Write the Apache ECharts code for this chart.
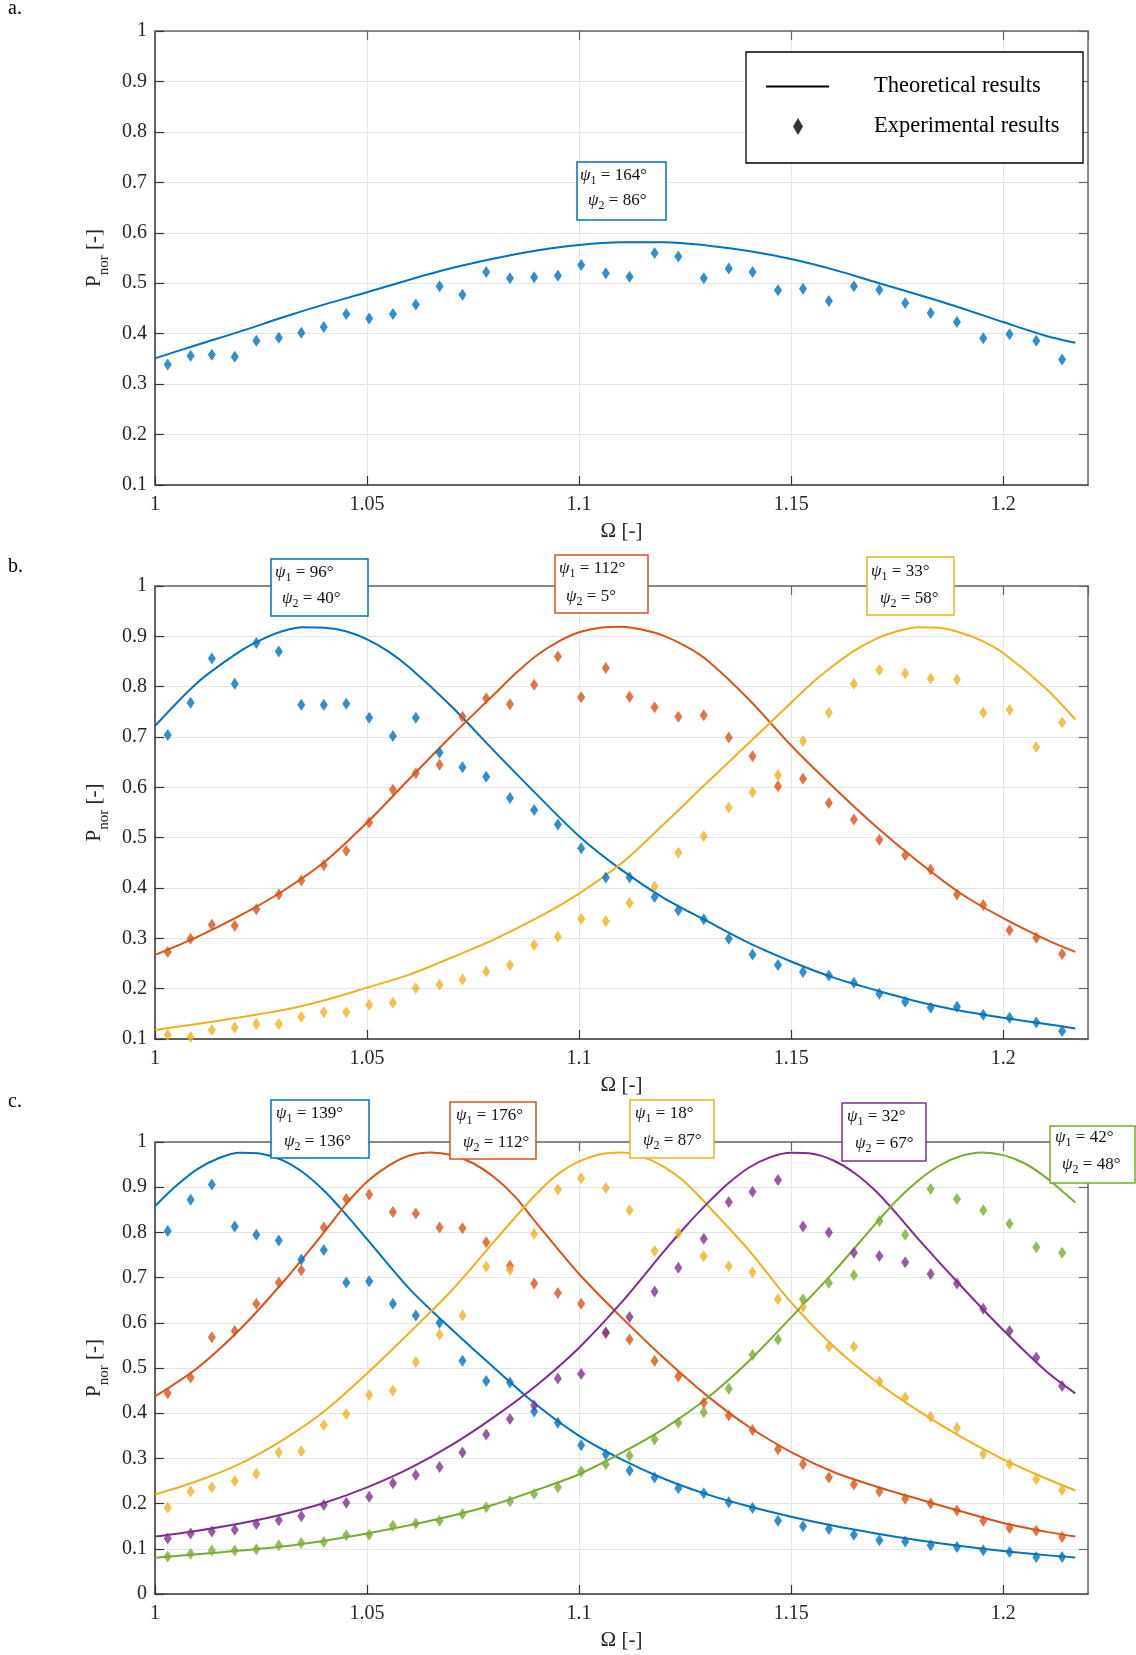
<!DOCTYPE html>
<html>
<head>
<meta charset="utf-8">
<script src="https://cdn.jsdelivr.net/npm/echarts/dist/echarts.min.js"></script>
<style>
html,body{margin:0;padding:0;background:#fff;overflow:hidden}
#chart{width:1136px;height:1655px}
</style>
</head>
<body>
<div id="chart"></div>
<script>
// ---------------- DATA ----------------
const expX = [1.0030,1.0084,1.0134,1.0188,1.0239,1.0292,1.0345,1.0398,1.0451,1.0505,1.0561,1.0615,1.0671,1.0725,1.0781,1.0837,1.0894,1.0950,1.1005,1.1063,1.1119,1.1178,1.1234,1.1294,1.1353,1.1409,1.1469,1.1528,1.1589,1.1648,1.1708,1.1769,1.1829,1.1891,1.1953,1.2015,1.2078,1.2139];

// panel a experimental
const expA = [0.339,0.356,0.358,0.354,0.386,0.392,0.402,0.413,0.439,0.430,0.439,0.458,0.494,0.477,0.522,0.510,0.512,0.515,0.536,0.520,0.513,0.560,0.553,0.510,0.529,0.522,0.486,0.489,0.465,0.494,0.487,0.461,0.441,0.423,0.391,0.399,0.386,0.349];
// panel b experimental
const expB1 = [0.704,0.768,0.856,0.806,0.887,0.870,0.764,0.764,0.766,0.738,0.702,0.738,0.669,0.640,0.621,0.579,0.555,0.526,0.479,0.421,0.421,0.382,0.356,0.338,0.299,0.268,0.247,0.233,0.226,0.212,0.190,0.174,0.162,0.164,0.148,0.142,0.133,0.116];
const expB2 = [0.273,0.299,0.327,0.325,0.358,0.387,0.415,0.445,0.474,0.530,0.595,0.628,0.645,0.740,0.777,0.765,0.804,0.860,0.779,0.837,0.780,0.759,0.740,0.743,0.699,0.662,0.602,0.617,0.569,0.536,0.496,0.465,0.437,0.387,0.366,0.316,0.301,0.269];
const expB3 = [0.108,0.104,0.118,0.123,0.130,0.130,0.144,0.153,0.153,0.168,0.172,0.201,0.208,0.218,0.234,0.247,0.287,0.303,0.339,0.334,0.370,0.403,0.470,0.503,0.560,0.590,0.624,0.692,0.748,0.806,0.833,0.826,0.816,0.814,0.748,0.754,0.680,0.729];
// panel c experimental
const expC1 = [0.803,0.872,0.906,0.813,0.795,0.782,0.740,0.761,0.689,0.692,0.642,0.616,0.600,0.516,0.471,0.468,0.404,0.379,0.329,0.309,0.273,0.258,0.234,0.223,0.203,0.190,0.162,0.150,0.144,0.131,0.119,0.116,0.108,0.104,0.097,0.093,0.082,0.082];
const expC2 = [0.444,0.479,0.568,0.582,0.642,0.689,0.716,0.811,0.874,0.884,0.845,0.842,0.811,0.809,0.778,0.726,0.687,0.666,0.642,0.577,0.563,0.516,0.481,0.423,0.395,0.363,0.320,0.287,0.258,0.242,0.227,0.211,0.200,0.185,0.162,0.146,0.140,0.126];
const expC3 = [0.191,0.227,0.236,0.250,0.266,0.313,0.316,0.374,0.398,0.440,0.450,0.513,0.574,0.616,0.724,0.717,0.797,0.895,0.919,0.898,0.849,0.759,0.798,0.747,0.725,0.712,0.652,0.635,0.547,0.547,0.470,0.435,0.392,0.367,0.310,0.287,0.254,0.230];
const expC4 = [0.123,0.134,0.138,0.142,0.155,0.163,0.172,0.197,0.202,0.215,0.245,0.263,0.281,0.313,0.353,0.387,0.417,0.477,0.487,0.579,0.613,0.669,0.722,0.786,0.867,0.890,0.916,0.813,0.800,0.755,0.748,0.734,0.708,0.687,0.631,0.582,0.523,0.460];
const expC5 = [0.083,0.089,0.096,0.096,0.099,0.108,0.113,0.115,0.130,0.131,0.151,0.156,0.162,0.177,0.192,0.205,0.221,0.236,0.271,0.287,0.306,0.342,0.379,0.402,0.454,0.529,0.563,0.652,0.688,0.705,0.825,0.795,0.896,0.874,0.849,0.819,0.767,0.755];

// theoretical curves, [Omega, P] pairs
const thA  = [[1.00,0.351],[1.01,0.378],[1.02,0.404],[1.03,0.432],[1.04,0.458],[1.05,0.482],[1.06,0.507],[1.07,0.530],[1.08,0.549],[1.09,0.565],[1.10,0.576],[1.11,0.581],[1.12,0.581],[1.13,0.575],[1.14,0.564],[1.15,0.548],[1.16,0.527],[1.17,0.502],[1.18,0.477],[1.19,0.451],[1.20,0.423],[1.21,0.396],[1.217,0.382]];
const thB1 = [[1.00,0.722],[1.01,0.808],[1.02,0.870],[1.025,0.893],[1.03,0.910],[1.035,0.918],[1.04,0.917],[1.045,0.910],[1.05,0.894],[1.055,0.870],[1.06,0.838],[1.07,0.760],[1.08,0.672],[1.09,0.586],[1.10,0.503],[1.11,0.436],[1.12,0.380],[1.13,0.335],[1.14,0.291],[1.15,0.254],[1.16,0.222],[1.17,0.197],[1.18,0.174],[1.19,0.156],[1.20,0.142],[1.21,0.130],[1.217,0.121]];
const thB2 = [[1.00,0.267],[1.01,0.303],[1.02,0.345],[1.03,0.393],[1.04,0.452],[1.05,0.530],[1.06,0.617],[1.07,0.703],[1.08,0.785],[1.085,0.826],[1.09,0.862],[1.095,0.889],[1.10,0.908],[1.105,0.917],[1.11,0.919],[1.115,0.913],[1.12,0.901],[1.125,0.881],[1.13,0.854],[1.14,0.775],[1.15,0.683],[1.16,0.600],[1.17,0.522],[1.18,0.452],[1.19,0.389],[1.20,0.340],[1.21,0.298],[1.217,0.273]];
const thB3 = [[1.00,0.118],[1.01,0.130],[1.02,0.143],[1.03,0.157],[1.04,0.177],[1.05,0.202],[1.06,0.228],[1.07,0.262],[1.08,0.298],[1.09,0.340],[1.10,0.389],[1.11,0.449],[1.12,0.527],[1.13,0.608],[1.14,0.688],[1.15,0.768],[1.155,0.808],[1.16,0.842],[1.165,0.872],[1.17,0.895],[1.175,0.910],[1.18,0.918],[1.185,0.917],[1.19,0.907],[1.195,0.891],[1.20,0.867],[1.21,0.797],[1.217,0.735]];
const thC1 = [[1.00,0.858],[1.005,0.903],[1.01,0.940],[1.015,0.964],[1.02,0.976],[1.025,0.974],[1.03,0.960],[1.035,0.932],[1.04,0.891],[1.045,0.840],[1.05,0.785],[1.06,0.675],[1.07,0.585],[1.08,0.500],[1.09,0.418],[1.10,0.350],[1.11,0.298],[1.12,0.255],[1.13,0.221],[1.14,0.194],[1.15,0.171],[1.16,0.151],[1.17,0.134],[1.18,0.119],[1.19,0.106],[1.20,0.095],[1.21,0.086],[1.217,0.081]];
const thC2 = [[1.00,0.437],[1.01,0.500],[1.02,0.585],[1.03,0.688],[1.04,0.802],[1.045,0.862],[1.05,0.912],[1.055,0.947],[1.06,0.970],[1.065,0.977],[1.07,0.971],[1.075,0.953],[1.08,0.922],[1.085,0.878],[1.09,0.820],[1.10,0.708],[1.11,0.612],[1.12,0.522],[1.13,0.440],[1.14,0.370],[1.15,0.314],[1.16,0.270],[1.17,0.238],[1.18,0.210],[1.19,0.183],[1.20,0.157],[1.21,0.138],[1.217,0.127]];
const thC3 = [[1.00,0.220],[1.01,0.250],[1.02,0.288],[1.03,0.340],[1.04,0.405],[1.05,0.488],[1.06,0.578],[1.07,0.672],[1.08,0.780],[1.085,0.834],[1.09,0.886],[1.095,0.929],[1.10,0.957],[1.105,0.973],[1.11,0.977],[1.115,0.967],[1.12,0.945],[1.125,0.911],[1.13,0.863],[1.14,0.761],[1.15,0.645],[1.16,0.548],[1.17,0.470],[1.18,0.405],[1.19,0.348],[1.20,0.298],[1.21,0.256],[1.217,0.229]];
const thC4 = [[1.00,0.127],[1.01,0.140],[1.02,0.156],[1.03,0.176],[1.04,0.202],[1.05,0.236],[1.06,0.278],[1.07,0.330],[1.08,0.392],[1.09,0.462],[1.10,0.545],[1.11,0.645],[1.12,0.758],[1.125,0.812],[1.13,0.862],[1.135,0.907],[1.14,0.943],[1.145,0.966],[1.15,0.976],[1.155,0.974],[1.16,0.959],[1.165,0.931],[1.17,0.891],[1.175,0.840],[1.18,0.785],[1.19,0.682],[1.20,0.584],[1.21,0.494],[1.217,0.444]];
const thC5 = [[1.00,0.080],[1.01,0.088],[1.02,0.096],[1.03,0.105],[1.04,0.118],[1.05,0.134],[1.06,0.152],[1.07,0.173],[1.08,0.198],[1.09,0.230],[1.10,0.265],[1.11,0.312],[1.12,0.366],[1.13,0.432],[1.14,0.515],[1.15,0.612],[1.16,0.712],[1.17,0.820],[1.175,0.872],[1.18,0.915],[1.185,0.948],[1.19,0.969],[1.195,0.977],[1.20,0.971],[1.205,0.953],[1.21,0.922],[1.217,0.866]];

// annotation texts [psi1, psi2] per curve
const psiA = [['164°','86°']];
const psiB = [['96°','40°'],['112°','5°'],['33°','58°']];
const psiC = [['139°','136°'],['176°','112°'],['18°','87°'],['32°','67°'],['42°','48°']];

const panelLabels = ['a.','b.','c.'];
const legendNames = ['Theoretical results','Experimental results'];
const xTitle = 'Ω [-]';

// ---------------- STYLE / LAYOUT ----------------
const COLORS = ['#0072BD','#D95319','#EDB120','#7E2F8E','#77AC30'];
const FONT = '"Liberation Serif","Times New Roman",serif';
const AXC = '#333333', AXC2 = '#666666', GRIDC = '#e4e4e4', TXT = '#262626';

const panels = [
  {th:[thA], exp:[expA], ymin:0.1, top:31,  height:454, psi:psiA},
  {th:[thB1,thB2,thB3], exp:[expB1,expB2,expB3], ymin:0.1, top:586, height:453, psi:psiB},
  {th:[thC1,thC2,thC3,thC4,thC5], exp:[expC1,expC2,expC3,expC4,expC5], ymin:0, top:1142, height:452, psi:psiC}
];
// annotation box layout: [rectX, rectY, w, h, line1X, line1Y, line2X, line2Y]
const boxLayout = [
  [[577,162,89,58, 580,176, 588,201]],
  [[271,559,97,57, 275,573, 282,599],[555,555,93,58, 559,569, 566,597],[867,557,87,58, 871,572, 880,599]],
  [[271,1100,98,58, 276,1114, 284,1142],[450,1102,86,57, 456,1116, 463,1143],[630,1100,84,58, 635,1114, 643,1141],[842,1103,84,58, 847,1117, 855,1144],[1050,1126,85,57, 1055,1138, 1062,1165]]
];
const panelLabelY = [9, 567, 1102];

const GL = 155, GW = 933;
const grids = [], xAxes = [], yAxes = [], series = [], graphics = [];

panels.forEach((p, i) => {
  grids.push({left:GL, top:p.top, width:GW, height:p.height, containLabel:false, outerBoundsMode:'none'});
  const xBase = {gridIndex:i, type:'value', min:1, max:1.22, interval:0.05};
  xAxes.push(Object.assign({}, xBase, {
    position:'bottom',
    axisLine:{show:true, onZero:false, lineStyle:{color:AXC, width:1.5}},
    axisTick:{show:true, inside:true, length:9, lineStyle:{color:AXC, width:1.2}},
    axisLabel:{show:true, margin:10, fontSize:20, fontFamily:FONT, color:TXT, showMaxLabel:false},
    splitLine:{show:true, lineStyle:{color:GRIDC, width:1}},
    name:xTitle, nameLocation:'middle', nameGap:36,
    nameTextStyle:{fontSize:21, fontFamily:FONT, color:TXT}
  }));
  xAxes.push(Object.assign({}, xBase, {
    position:'top',
    axisLine:{show:true, onZero:false, lineStyle:{color:AXC2, width:1.5}},
    axisTick:{show:true, inside:true, length:9, lineStyle:{color:AXC2, width:1.2}},
    axisLabel:{show:false}, splitLine:{show:false}
  }));
  const yBase = {gridIndex:i, type:'value', min:p.ymin, max:1, interval:0.1};
  yAxes.push(Object.assign({}, yBase, {
    position:'left',
    axisLine:{show:true, onZero:false, lineStyle:{color:AXC, width:1.5}},
    axisTick:{show:true, inside:true, length:9, lineStyle:{color:AXC, width:1.2}},
    axisLabel:{show:true, margin:8, fontSize:20, fontFamily:FONT, color:TXT},
    splitLine:{show:true, lineStyle:{color:GRIDC, width:1}},
    name:'{p|P}{s|nor}{p| [-]}', nameLocation:'middle', nameGap:40, nameRotate:90,
    nameTextStyle:{color:TXT, fontFamily:FONT, fontSize:21,
      rich:{p:{fontSize:21, fontFamily:FONT, color:TXT}, s:{fontSize:15, fontFamily:FONT, color:TXT, padding:[18,0,0,0]}}}
  }));
  yAxes.push(Object.assign({}, yBase, {
    position:'right',
    axisLine:{show:true, onZero:false, lineStyle:{color:AXC2, width:1.5}},
    axisTick:{show:true, inside:true, length:9, lineStyle:{color:AXC2, width:1.2}},
    axisLabel:{show:false}, splitLine:{show:false}
  }));

  p.th.forEach((pairs, k) => {
    series.push({
      name: i === 0 ? legendNames[0] : ('th-' + i + '-' + k),
      type:'line', xAxisIndex:2*i, yAxisIndex:2*i,
      data: pairs,
      smooth:0.3, symbol:'none', showSymbol:false, silent:true,
      lineStyle:{color:COLORS[k], width:2}, itemStyle:{color:COLORS[k]}, z:2
    });
  });
  p.exp.forEach((ys, k) => {
    series.push({
      name: i === 0 ? legendNames[1] : ('exp-' + i + '-' + k),
      type:'scatter', xAxisIndex:2*i, yAxisIndex:2*i,
      data: expX.map((x, j) => [x, ys[j]]),
      symbol:'diamond', symbolSize:[8,12], clip:false, silent:true,
      itemStyle:{color:COLORS[k]}, z:3
    });
  });

  // panel label
  graphics.push({type:'text', x:8, y:panelLabelY[i], z:20,
    style:{text:panelLabels[i], fontSize:20, fontFamily:FONT, fill:'#000', verticalAlign:'middle', align:'left'}});

  // annotation boxes
  p.psi.forEach((pair, k) => {
    const L = boxLayout[i][k];
    graphics.push({type:'rect', z:10, shape:{x:L[0], y:L[1], width:L[2], height:L[3]},
      style:{fill:'#fff', stroke:COLORS[k], lineWidth:1.5}});
    const rich = {
      g:{fontSize:17, fontFamily:FONT, fontStyle:'italic', fill:'#111'},
      s:{fontSize:12, fontFamily:FONT, fill:'#111', padding:[9,0,0,0]},
      n:{fontSize:17, fontFamily:FONT, fill:'#111'}
    };
    graphics.push({type:'text', z:11, x:L[4], y:L[5],
      style:{text:'{g|ψ}{s|1}{n| = ' + pair[0] + '}', rich:rich, verticalAlign:'middle', align:'left'}});
    graphics.push({type:'text', z:11, x:L[6], y:L[7],
      style:{text:'{g|ψ}{s|2}{n| = ' + pair[1] + '}', rich:rich, verticalAlign:'middle', align:'left'}});
  });
});

// legend frame
graphics.push({type:'rect', z:3, shape:{x:746, y:52, width:337, height:111},
  style:{fill:'#fff', stroke:'#000', lineWidth:1.3}});

const legendText = {fontSize:22.5, fontFamily:FONT, color:'#000'};
const option = {
  animation:false,
  backgroundColor:'#fff',
  grid:grids, xAxis:xAxes, yAxis:yAxes, series:series,
  legend:[
    {data:[legendNames[0]], left:766, top:75, orient:'vertical', padding:0, itemWidth:63, itemHeight:2, icon:'rect',
     selectedMode:false, z:5, itemStyle:{color:'#000'},
     textStyle:Object.assign({padding:[0,0,0,40]}, legendText)},
    {data:[legendNames[1]], left:793, top:115, orient:'vertical', padding:0, itemWidth:10, itemHeight:17, icon:'diamond',
     selectedMode:false, z:5, itemStyle:{color:'#000'},
     textStyle:Object.assign({padding:[0,0,0,66]}, legendText)}
  ],
  graphic:{elements:graphics}
};

const chart = echarts.init(document.getElementById('chart'), null, {renderer:'canvas', width:1136, height:1655});
chart.setOption(option);
</script>
</body>
</html>
